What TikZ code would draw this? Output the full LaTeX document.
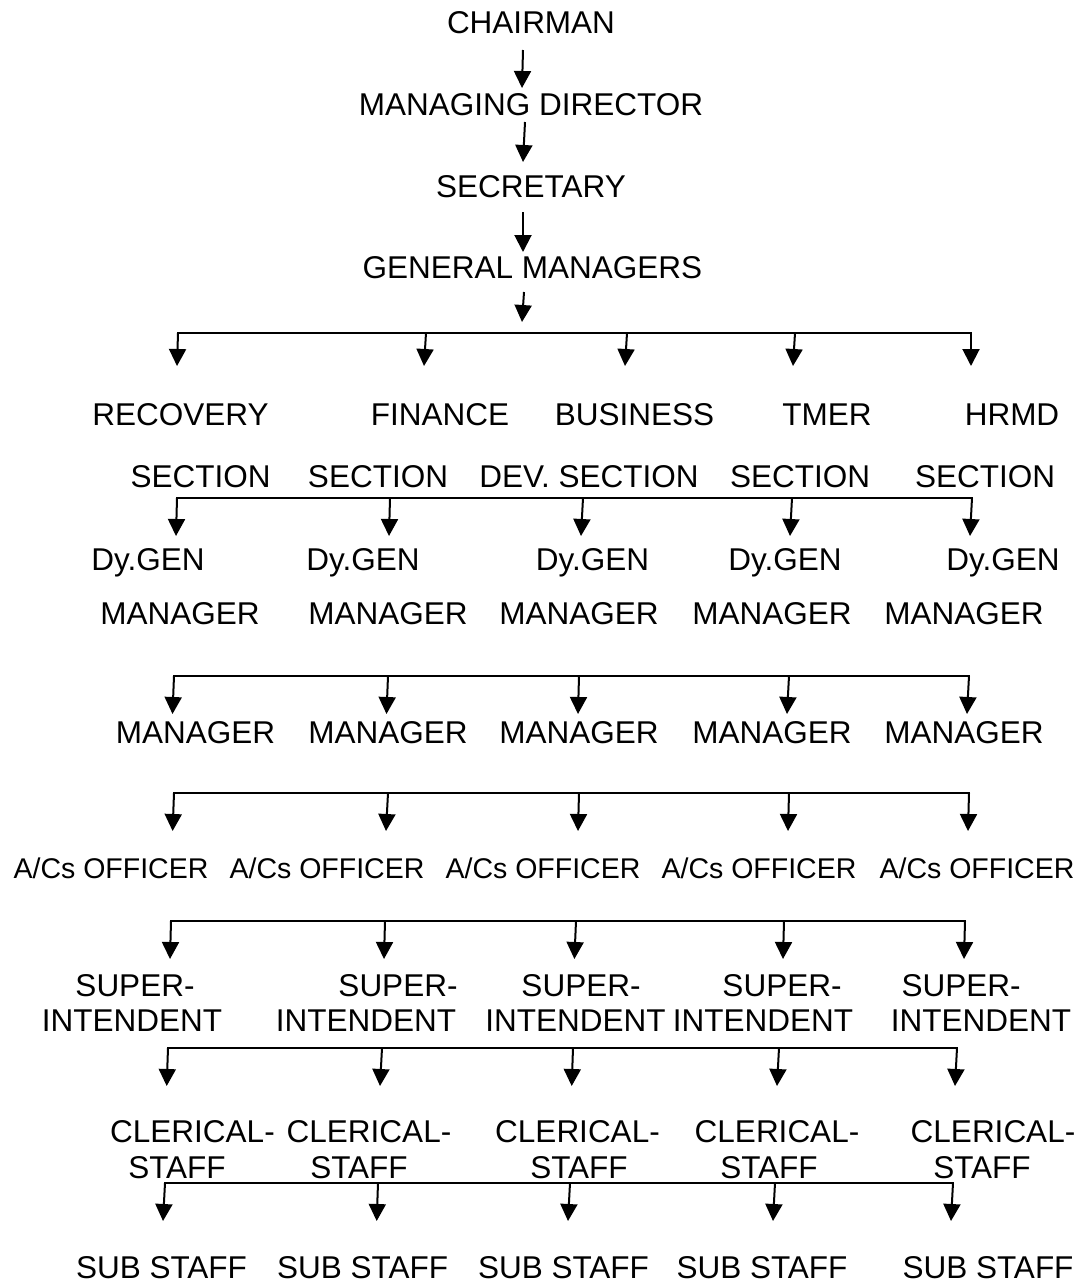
\documentclass[tikz,border=0pt]{standalone}
\usepackage{fontspec}
\setmainfont{Liberation Sans}
\usetikzlibrary{arrows.meta}
\begin{document}
\begin{tikzpicture}[x=1pt,y=-1pt,
  lbl/.style={anchor=base,inner sep=0pt,font=\fontsize{31.5}{36}\selectfont},
  sml/.style={anchor=base,inner sep=0pt,font=\fontsize{28.5}{32}\selectfont},
  arr/.style={line width=2pt,-{Triangle[length=17pt,width=17pt]}},
  bus/.style={line width=2pt}]
\useasboundingbox (0,0) rectangle (1091,1283);
% top chain
\node[lbl] (chair) at (531,33) {CHAIRMAN};
\node[lbl] (md) at (531,115) {MANAGING DIRECTOR};
\node[lbl] (sec) at (531,197) {SECRETARY};
\node[lbl] (gm) at (532.5,278) {GENERAL MANAGERS};
\coordinate (c1s) at (523,50);  \coordinate (c1e) at (522,88);
\coordinate (c2s) at (525,122); \coordinate (c2e) at (523,162);
\coordinate (c3s) at (523,212); \coordinate (c3e) at (523,252);
\coordinate (c4s) at (524,292); \coordinate (c4e) at (522,322);
\draw[arr] (c1s) -- (c1e);
\draw[arr] (c2s) -- (c2e);
\draw[arr] (c3s) -- (c3e);
\draw[arr] (c4s) -- (c4e);
% sections
\foreach \i/\t/\x in {1/RECOVERY/180.5,2/FINANCE/440,3/BUSINESS/634.5,4/TMER/827,5/HRMD/1012}
  \node[lbl] (secA-\i) at (\x,425) {\t};
\foreach \i/\t/\x in {1/SECTION/200.7,2/SECTION/378,3/DEV. SECTION/589,4/SECTION/800,5/SECTION/985}
  \node[lbl] (secB-\i) at (\x,487) {\t};
% Dy.GEN MANAGER
\foreach \i/\x in {1/148,2/363,3/592.5,4/785,5/1003}
  \node[lbl] (dgA-\i) at (\x,570) {Dy.GEN};
\foreach \i/\x in {1/180,2/388,3/579,4/772,5/964}
  \node[lbl] (dgB-\i) at (\x,624) {MANAGER};
% MANAGER
\foreach \i/\x in {1/195.5,2/388,3/579,4/772,5/964}
  \node[lbl] (mg-\i) at (\x,743) {MANAGER};
% A/Cs OFFICER
\foreach \i/\x in {1/111,2/327,3/543,4/759,5/977}
  \node[sml] (ac-\i) at (\x,878) {A/Cs OFFICER};
% SUPERINTENDENT
\foreach \i/\x in {1/135,2/398,3/581,4/782,5/961}
  \node[lbl] (spA-\i) at (\x,996) {SUPER-};
\foreach \i/\x in {1/132,2/366,3/575.5,4/763,5/981}
  \node[lbl] (spB-\i) at (\x,1031) {INTENDENT};
% CLERICAL STAFF
\foreach \i/\x in {1/192.5,2/369,3/577.5,4/777,5/993}
  \node[lbl] (clA-\i) at (\x,1142) {CLERICAL-};
\foreach \i/\x in {1/177,2/359,3/579,4/769,5/982}
  \node[lbl] (clB-\i) at (\x,1178) {STAFF};
% SUB STAFF
\foreach \i/\x in {1/161.5,2/362.7,3/563.5,4/762,5/988}
  \node[lbl] (sub-\i) at (\x,1278) {SUB STAFF};
% buses with arrows
\foreach \r/\yb/\yt/\data in {
  1/333/366/{1/178/177,2/426/424,3/627/625,4/795/793,5/971/971},
  2/498/536/{1/177/176,2/390/389,3/583/581,4/792/790,5/972/970},
  3/676/714/{1/174/172.5,2/388/386.5,3/579/578,4/789/787,5/969/967},
  4/793/831/{1/174/172.6,2/388/386,3/579/578,4/789/788,5/969/968},
  5/921/959/{1/171/170,2/385/384,3/576/574.4,4/784/783,5/965/964},
  6/1048/1086/{1/168/166.7,2/382/380,3/573/571.7,4/779/777,5/957/955},
  7/1183/1221/{1/165/163,2/378/376.7,3/570/568,4/775/773,5/953/951}}{
  \foreach \i/\xa/\xb in \data {
    \coordinate (b\r-\i) at (\xa,\yb);
    \coordinate (t\r-\i) at (\xb,\yt);
    \draw[arr] (b\r-\i) -- (t\r-\i);
  }
  \draw[bus] ([xshift=-1pt]b\r-1) -- ([xshift=1pt]b\r-5);
}
\end{tikzpicture}
\end{document}
